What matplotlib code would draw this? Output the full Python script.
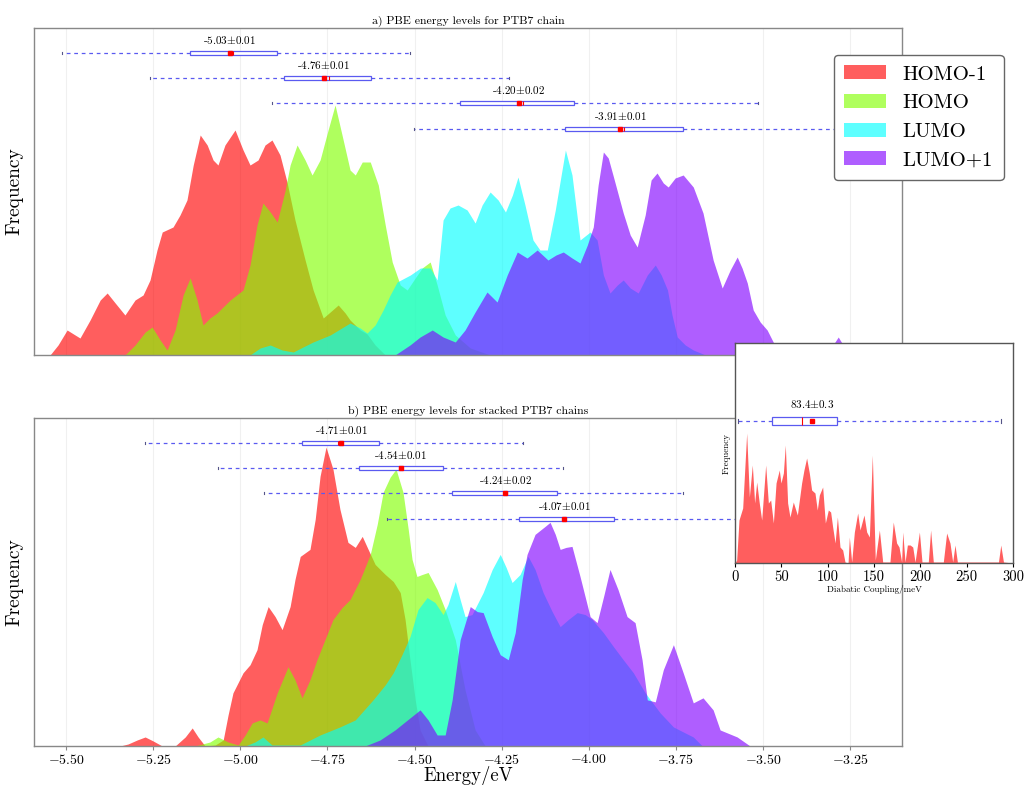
import matplotlib.pyplot as plt
import numpy as np
from matplotlib.patches import Patch
from matplotlib.ticker import FuncFormatter

plt.rcParams['font.family'] = 'serif'
plt.rcParams['font.serif'] = ['cmr10']
plt.rcParams['mathtext.fontset'] = 'cm'
plt.rcParams['axes.unicode_minus'] = False

# ---- data ----
levels = ['HOMO-1', 'HOMO', 'LUMO', 'LUMO+1']
colors = ['#ff0000', '#80ff00', '#00ffff', '#8000ff']

# a) single chain: energy (eV) and frequency (arb. units)
a_homo1_e = [-5.546, -5.523, -5.497, -5.474, -5.460, -5.431, -5.402, -5.382, -5.359, -5.331, -5.302, -5.279,
             -5.259, -5.239, -5.224, -5.193, -5.173, -5.153, -5.135, -5.115, -5.095, -5.078, -5.064, -5.044,
             -5.015, -4.992, -4.972, -4.949, -4.929, -4.909, -4.886, -4.866, -4.843, -4.814, -4.791, -4.762,
             -4.742, -4.719, -4.699, -4.685, -4.656, -4.636, -4.613, -4.584]
a_homo1_f = [0, 0.10, 0.25, 0.20, 0.17, 0.35, 0.55, 0.62, 0.52, 0.40, 0.55, 0.60,
             0.75, 1.05, 1.23, 1.28, 1.40, 1.55, 1.90, 2.20, 2.10, 1.95, 1.90, 2.10,
             2.25, 2.05, 1.90, 1.95, 2.10, 2.15, 2.00, 1.73, 1.35, 0.95, 0.65, 0.37,
             0.43, 0.50, 0.42, 0.35, 0.25, 0.21, 0.10, 0]
a_homo_e = [-5.331, -5.302, -5.273, -5.253, -5.230, -5.210, -5.187, -5.164, -5.144, -5.124, -5.107, -5.087,
            -5.067, -5.029, -4.992, -4.972, -4.952, -4.935, -4.914, -4.894, -4.871, -4.857, -4.837, -4.814,
            -4.794, -4.771, -4.748, -4.728, -4.708, -4.685, -4.670, -4.650, -4.627, -4.604, -4.584, -4.564,
            -4.541, -4.521, -4.498, -4.478, -4.455, -4.435, -4.412, -4.383, -4.340, -4.283]
a_homo_f = [0, 0.10, 0.23, 0.28, 0.15, 0.05, 0.25, 0.60, 0.77, 0.55, 0.30, 0.37,
            0.42, 0.55, 0.65, 0.90, 1.30, 1.52, 1.43, 1.33, 1.65, 1.90, 2.10, 1.95,
            1.80, 1.95, 2.25, 2.50, 2.20, 1.85, 1.80, 1.93, 1.93, 1.70, 1.30, 0.93,
            0.70, 0.65, 0.77, 0.87, 0.93, 0.70, 0.40, 0.20, 0.07, 0]
a_lumo_e = [-4.972, -4.943, -4.914, -4.880, -4.848, -4.820, -4.791, -4.742, -4.685, -4.656, -4.636, -4.613,
            -4.590, -4.570, -4.550, -4.512, -4.483, -4.455, -4.435, -4.418, -4.398, -4.375, -4.349, -4.326,
            -4.306, -4.283, -4.260, -4.239, -4.219, -4.203, -4.183, -4.160, -4.140, -4.119, -4.096, -4.067,
            -4.048, -4.025, -3.996, -3.976, -3.958, -3.939, -3.918, -3.901, -3.881, -3.858, -3.832, -3.809,
            -3.792, -3.774, -3.761, -3.746, -3.723, -3.700, -3.665]
a_lumo_f = [0, 0.07, 0.10, 0.05, 0.03, 0.08, 0.13, 0.20, 0.32, 0.27, 0.22, 0.30,
            0.45, 0.60, 0.73, 0.80, 0.87, 0.87, 0.75, 1.35, 1.47, 1.50, 1.45, 1.32,
            1.50, 1.63, 1.55, 1.43, 1.60, 1.78, 1.50, 1.15, 1.05, 1.05, 1.45, 2.05,
            1.80, 1.15, 1.23, 1.15, 0.80, 0.62, 0.70, 0.75, 0.67, 0.62, 0.80, 0.90,
            0.80, 0.65, 0.40, 0.18, 0.10, 0.05, 0]
a_lumo1_e = [-4.556, -4.513, -4.484, -4.449, -4.418, -4.383, -4.355, -4.326, -4.292, -4.263, -4.234, -4.205,
             -4.177, -4.148, -4.117, -4.094, -4.073, -4.048, -4.025, -4.004, -3.987, -3.973, -3.958, -3.944,
             -3.929, -3.901, -3.881, -3.861, -3.838, -3.821, -3.804, -3.786, -3.772, -3.752, -3.729, -3.700,
             -3.672, -3.643, -3.617, -3.594, -3.574, -3.560, -3.545, -3.528, -3.508, -3.488, -3.459, -3.442,
             -3.313, -3.299, -3.284, -3.270, -3.255]
a_lumo1_f = [0, 0.10, 0.18, 0.25, 0.18, 0.13, 0.25, 0.43, 0.63, 0.53, 0.80, 1.03,
             0.97, 1.05, 0.95, 1.00, 1.03, 0.97, 0.92, 1.10, 1.28, 1.70, 2.03, 1.97,
             1.78, 1.42, 1.20, 1.08, 1.40, 1.75, 1.82, 1.72, 1.68, 1.77, 1.80, 1.68,
             1.42, 0.95, 0.67, 0.85, 0.98, 0.87, 0.72, 0.45, 0.33, 0.25, 0.05, 0,
             0, 0.10, 0.18, 0.10, 0]

# b) stacked chains
b_homo1_e = [-5.345, -5.322, -5.296, -5.273, -5.250, -5.224, -5.187, -5.158, -5.138, -5.121, -5.101, -5.072,
             -5.049, -5.035, -5.021, -4.992, -4.972, -4.952, -4.937, -4.920, -4.900, -4.880, -4.857, -4.843,
             -4.828, -4.800, -4.785, -4.771, -4.754, -4.734, -4.714, -4.691, -4.670, -4.650, -4.633, -4.613,
             -4.584, -4.561, -4.541, -4.527, -4.513, -4.498, -4.484, -4.461]
b_homo1_f = [0, 0.02, 0.06, 0.09, 0.05, 0, 0, 0.09, 0.18, 0.09, 0, 0.01,
             0.06, 0.31, 0.53, 0.73, 0.81, 0.96, 1.21, 1.39, 1.29, 1.16, 1.39, 1.66,
             1.89, 1.96, 2.26, 2.69, 2.98, 2.76, 2.36, 2.03, 1.98, 2.09, 1.96, 1.81,
             1.71, 1.64, 1.53, 1.26, 0.86, 0.46, 0.16, 0]
b_homo_e = [-5.130, -5.087, -5.064, -5.035, -5.006, -4.986, -4.966, -4.943, -4.923, -4.894, -4.863, -4.843,
            -4.823, -4.800, -4.780, -4.757, -4.734, -4.708, -4.685, -4.656, -4.627, -4.607, -4.590, -4.570,
            -4.553, -4.533, -4.518, -4.507, -4.493, -4.478, -4.461, -4.435, -4.412, -4.383, -4.355, -4.326,
            -4.297]
b_homo_f = [0, 0.04, 0.09, 0.04, 0.01, 0.11, 0.23, 0.26, 0.23, 0.53, 0.79, 0.66,
            0.48, 0.66, 0.86, 1.06, 1.26, 1.38, 1.46, 1.66, 1.91, 2.21, 2.53, 2.68,
            2.76, 2.53, 2.16, 1.86, 1.69, 1.71, 1.73, 1.56, 1.36, 1.06, 0.56, 0.16,
            0]
b_lumo_e = [-4.986, -4.958, -4.935, -4.909, -4.828, -4.771, -4.714, -4.670, -4.619, -4.584, -4.561, -4.536,
            -4.513, -4.490, -4.464, -4.441, -4.418, -4.404, -4.383, -4.369, -4.355, -4.335, -4.303, -4.277,
            -4.254, -4.237, -4.220, -4.197, -4.174, -4.154, -4.131, -4.105, -4.082, -4.059, -4.033, -4.010,
            -3.990, -3.958, -3.929, -3.901, -3.872, -3.838, -3.795, -3.757, -3.723, -3.700, -3.674]
b_lumo_f = [0, 0.04, 0.09, 0.01, 0.01, 0.11, 0.19, 0.26, 0.46, 0.61, 0.73, 0.91,
            1.09, 1.36, 1.48, 1.43, 1.31, 1.41, 1.64, 1.46, 1.29, 1.31, 1.53, 1.76,
            1.91, 1.78, 1.63, 1.71, 1.89, 1.76, 1.53, 1.34, 1.19, 1.26, 1.33, 1.31,
            1.26, 1.13, 0.99, 0.86, 0.73, 0.53, 0.33, 0.19, 0.13, 0.09, 0]
b_lumo1_e = [-4.642, -4.599, -4.556, -4.513, -4.484, -4.461, -4.435, -4.412, -4.392, -4.369, -4.340, -4.320,
             -4.303, -4.277, -4.254, -4.231, -4.211, -4.191, -4.177, -4.154, -4.125, -4.111, -4.096, -4.082,
             -4.065, -4.048, -4.025, -3.996, -3.976, -3.956, -3.939, -3.916, -3.890, -3.867, -3.847, -3.832,
             -3.809, -3.786, -3.757, -3.729, -3.700, -3.672, -3.643, -3.623, -3.574, -3.537]
b_lumo1_f = [0, 0.06, 0.16, 0.28, 0.36, 0.26, 0.11, 0.11, 0.46, 1.06, 1.39, 1.34,
             1.33, 1.09, 0.91, 0.86, 1.13, 1.66, 1.91, 2.11, 2.19, 2.23, 2.11, 1.96,
             1.98, 1.99, 1.69, 1.29, 1.23, 1.51, 1.76, 1.56, 1.29, 1.23, 0.86, 0.46,
             0.44, 0.76, 1.01, 0.73, 0.43, 0.48, 0.36, 0.16, 0.09, 0]

# box statistics (whislo, q1, median, mean, q3, whishi)
a_box = [(-5.511, -5.144, -5.022, -5.03, -4.894, -4.513),
         (-5.259, -4.874, -4.745, -4.76, -4.625, -4.229),
         (-4.909, -4.369, -4.190, -4.20, -4.042, -3.514),
         (-4.501, -4.068, -3.900, -3.91, -3.729, -3.200)]
a_labels = ['-5.03$\\pm$0.01', '-4.76$\\pm$0.01', '-4.20$\\pm$0.02', '-3.91$\\pm$0.01']
b_box = [(-5.273, -4.823, -4.720, -4.71, -4.602, -4.188),
         (-5.064, -4.659, -4.545, -4.54, -4.418, -4.073),
         (-4.932, -4.392, -4.235, -4.24, -4.091, -3.729),
         (-4.579, -4.200, -4.070, -4.07, -3.927, -3.550)]
b_labels = ['-4.71$\\pm$0.01', '-4.54$\\pm$0.01', '-4.24$\\pm$0.02', '-4.07$\\pm$0.01']

# inset: diabatic coupling (meV) and frequency
dc_x = [0, 1.8, 4.3, 8.3, 12.6, 15.5, 18.7, 21.2, 23.4, 26.2, 28.8, 33.1, 36.0, 38.5, 41.4, 44.3, 47.8,
        49.6, 52.2, 54.3, 56.8, 59.3, 62.9, 67.3, 71.9, 74.4, 77.3, 80.2, 82.7, 86.3, 88.8, 91.0, 94.6,
        97.5, 100.7, 103.2, 105.4, 108.0, 110.5, 113.3, 116.2, 118.7, 122.0, 123.4, 125.9, 128.8, 132.4,
        134.9, 139.2, 142.1, 145.0, 148.2, 151.4, 155.8, 159.4, 167.2, 170.8, 174.4, 177.0, 179.8, 181.0,
        183.5, 186.0, 189.0, 191.8, 194.3, 199.0, 201.8, 208.6, 211.1, 214.0, 224.8, 228.4, 232.0, 234.9,
        237.4, 240.0, 284.3, 286.8, 289.7, 300]
dc_f = [0, 0.03, 0.43, 0.55, 1.30, 0.66, 0.98, 0.60, 0.81, 0.60, 0.43, 0.98, 0.60, 0.63, 0.40, 0.80, 0.93,
        0.80, 0.90, 1.18, 0.60, 0.46, 0.61, 0.48, 0.80, 0.93, 1.05, 0.90, 0.73, 0.70, 0.53, 0.68, 0.76,
        0.40, 0.53, 0.51, 0.36, 0.20, 0.46, 0.16, 0.13, 0.01, 0.0, 0.26, 0.01, 0.31, 0.50,
        0.33, 0.48, 0.31, 0.26, 1.08, 0.03, 0.33, 0.01, 0.01, 0.41, 0.20, 0.16, 0.01, 0.31,
        0.01, 0.18, 0.18, 0.16, 0.01, 0.31, 0.01, 0.01, 0.33, 0.01, 0.01, 0.30, 0.20, 0.01,
        0.18, 0.01, 0.01, 0.18, 0.01, 0]
dc_box = (3.2, 40.0, 72.0, 83.4, 110.0, 287.0)
dc_label = '83.4$\\pm$0.3'

a_curves = [(a_homo1_e, a_homo1_f), (a_homo_e, a_homo_f), (a_lumo_e, a_lumo_f), (a_lumo1_e, a_lumo1_f)]
b_curves = [(b_homo1_e, b_homo1_f), (b_homo_e, b_homo_f), (b_lumo_e, b_lumo_f), (b_lumo1_e, b_lumo1_f)]
box_rows = [3.02, 2.77, 2.52, 2.26]
energy_ticks = np.arange(-5.5, -3.24, 0.25)

ALPHA = 0.63
BLUE = '#5a5af0'


def draw_boxes(ax, boxes, labels, rows, width, gap, fs):
    stats = []
    for lo, q1, med, mean, q3, hi in boxes:
        stats.append(dict(whislo=lo, q1=q1, med=med, mean=mean, q3=q3, whishi=hi, fliers=[]))
    ax.bxp(stats, positions=rows, widths=width, orientation='horizontal', showmeans=True,
           showfliers=False, patch_artist=True, manage_ticks=False,
           boxprops=dict(facecolor='white', edgecolor=BLUE, lw=0.9),
           whiskerprops=dict(color=BLUE, lw=0.9, linestyle=(0, (3, 3))),
           capprops=dict(color='#555588', lw=0.8),
           medianprops=dict(color='red', lw=0.8),
           meanprops=dict(marker='s', markerfacecolor='red', markeredgecolor='red', markersize=3.5))
    for b, lab, r in zip(boxes, labels, rows):
        ax.text(b[3], r + gap, lab, ha='center', va='center', fontsize=fs)


def style_main(ax, title):
    ax.set_xlim(-5.592, -3.101)
    ax.set_ylim(0, 3.27)
    ax.set_yticks([])
    ax.set_xticks(energy_ticks)
    ax.grid(axis='x', color='#f0f0f0', lw=0.8)
    ax.set_axisbelow(True)
    for s in ax.spines.values():
        s.set_color('#888888')
        s.set_linewidth(1.0)
    ax.set_ylabel('Frequency', fontsize=14, labelpad=8)
    ax.set_title(title, fontsize=8.5, pad=3)
    ax.tick_params(axis='x', length=3, color='#888888', labelsize=10, pad=2)


fig = plt.figure(figsize=(10.26, 7.85), dpi=100)
ax_a = fig.add_axes([34 / 1026, 430 / 785, 868 / 1026, 327 / 785])
ax_b = fig.add_axes([34 / 1026, 39 / 785, 868 / 1026, 328 / 785])

for ax, curves, boxes, labels, title in [
        (ax_a, a_curves, a_box, a_labels, 'a) PBE energy levels for PTB7 chain'),
        (ax_b, b_curves, b_box, b_labels, 'b) PBE energy levels for stacked PTB7 chains')]:
    for (e, f), c in zip(curves, colors):
        ax.fill_between(e, 0, f, color=c, alpha=ALPHA, lw=0)
    draw_boxes(ax, boxes, labels, box_rows, 0.04, 0.13, 8)
    style_main(ax, title)

ax_a.tick_params(axis='x', labelbottom=False, length=0)
ax_b.xaxis.set_major_formatter(FuncFormatter(lambda v, p: '$%.2f$' % v))
ax_b.set_xlabel('Energy/eV', fontsize=13.5, labelpad=-1)

handles = [Patch(facecolor=c, alpha=ALPHA, edgecolor='none') for c in colors]
fig.legend(handles, levels, loc='upper left', bbox_to_anchor=(834 / 1026, 1 - 55 / 785),
           borderaxespad=0, fontsize=15, frameon=True, fancybox=True, framealpha=1,
           edgecolor='#666666', handlelength=2.0, handleheight=0.65, labelspacing=0.5,
           borderpad=0.5, handletextpad=0.8)

# inset
ax_in = fig.add_axes([735 / 1026, 222 / 785, 278 / 1026, 220 / 785])
ax_in.fill_between(dc_x, 0, dc_f, color='#ff0000', alpha=ALPHA, lw=0)
draw_boxes(ax_in, [dc_box], [dc_label], [1.42], 0.08, 0.17, 8)
ax_in.set_xlim(0, 300)
ax_in.set_ylim(0, 2.20)
ax_in.set_yticks([])
ax_in.set_xticks(np.arange(0, 301, 50))
ax_in.tick_params(axis='x', length=3, labelsize=10.5, pad=2)
ax_in.set_xlabel('Diabatic Coupling/meV', fontsize=6.5, labelpad=1)
ax_in.set_ylabel('Frequency', fontsize=6.5, labelpad=3)
for s in ax_in.spines.values():
    s.set_color('#555555')
    s.set_linewidth(1.0)

fig.savefig('out.png', dpi=100)
